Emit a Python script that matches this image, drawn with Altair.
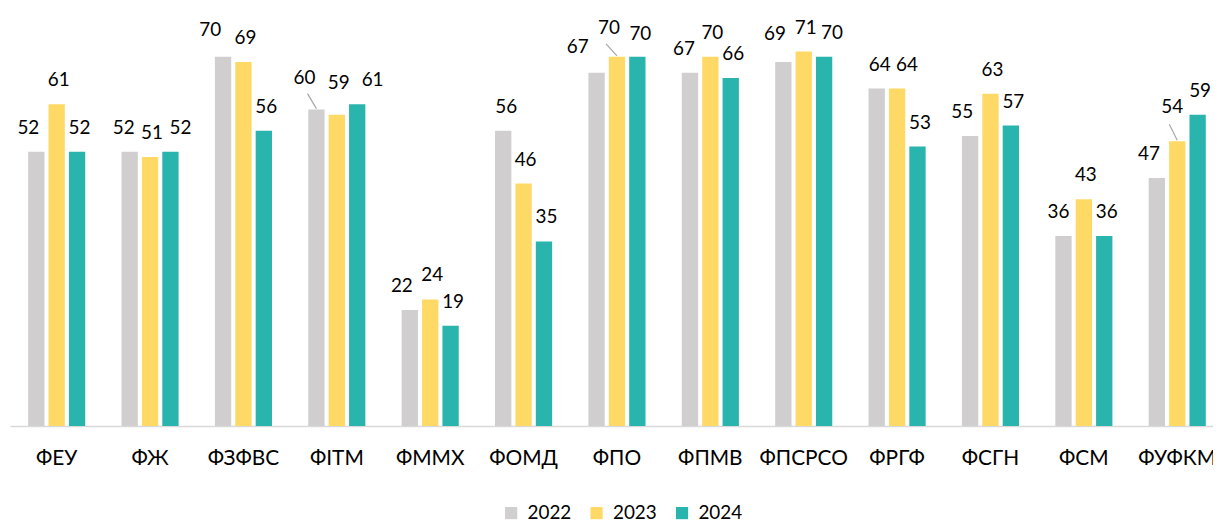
import altair as alt
import pandas as pd

categories = ["ФЕУ", "ФЖ", "ФЗФВС", "ФІТМ", "ФММХ", "ФОМД", "ФПО",
              "ФПМВ", "ФПСРСО", "ФРГФ", "ФСГН", "ФСМ", "ФУФКМ"]
years = ["2022", "2023", "2024"]
v2022 = [52, 52, 70, 60, 22, 56, 67, 67, 69, 64, 55, 36, 47]
v2023 = [61, 51, 69, 59, 24, 46, 70, 70, 71, 64, 63, 43, 54]
v2024 = [52, 52, 56, 61, 19, 35, 70, 66, 70, 53, 57, 36, 59]
colors = ["#D0CECE", "#FFD966", "#2AB4AE"]

# label placement (styling): default shift per series, and a few moved labels
default_dx = {"2022": -8, "2023": 2, "2024": 2.5}
default_dy = -18
label_moves = {
    ("ФЖ", "2022"): (-6, -18),
    ("ФЖ", "2024"): (10, -18),
    ("ФЗФВС", "2022"): (-13, -21),
    ("ФІТМ", "2022"): (-12, -26),
    ("ФІТМ", "2023"): (2, -26),
    ("ФІТМ", "2024"): (15.5, -18),
    ("ФОМД", "2022"): (3, -18),
    ("ФПО", "2022"): (-19, -20),
    ("ФПО", "2023"): (-8, -23),
    ("ФПО", "2024"): (3, -17),
    ("ФПМВ", "2022"): (-6, -18),
    ("ФПСРСО", "2022"): (-8.5, -22),
    ("ФПСРСО", "2024"): (8, -18),
    ("ФРГФ", "2022"): (3, -18),
    ("ФРГФ", "2023"): (10, -18),
    ("ФСМ", "2022"): (-5, -18),
    ("ФУФКМ", "2023"): (-5, -28),
}
leader_lines = {
    ("ФІТМ", "2022"): (-9, -15),
    ("ФПО", "2023"): (-11, -12),
    ("ФУФКМ", "2023"): (-8, -16),
}

rows = []
for yr, vals in zip(years, [v2022, v2023, v2024]):
    for c, v in zip(categories, vals):
        rows.append({"cat": c, "year": yr, "value": v, "key": f"{c}|{yr}"})
df = pd.DataFrame(rows)

FONT = "Lato"

x_enc = alt.X(
    "cat:N", sort=categories,
    scale=alt.Scale(range=[2, 1224], paddingInner=0, paddingOuter=0),
    axis=alt.Axis(title=None, labelAngle=0, ticks=False, tickSize=0,
                  domainColor="#D9D9D9", domainWidth=1.5,
                  labelFont=FONT, labelFontSize=21, labelColor="#000000",
                  labelPadding=22, labelOverlap=False),
)
xo_enc = alt.XOffset("year:N", sort=years,
                     scale=alt.Scale(paddingInner=0.2, paddingOuter=0.89))
y_enc = alt.Y("value:Q", scale=alt.Scale(domain=[0, 78]), axis=None)

base = alt.Chart(df)

bars = base.mark_bar().encode(
    x=x_enc, xOffset=xo_enc, y=y_enc,
    color=alt.Color(
        "year:N", sort=years,
        scale=alt.Scale(domain=years, range=colors),
        legend=alt.Legend(
            title=None, orient="none", legendX=497, legendY=492,
            direction="horizontal", symbolType="square", symbolSize=150,
            symbolStrokeWidth=0, labelFont=FONT, labelFontSize=19,
            labelColor="#000000", labelOffset=7, columnPadding=15, padding=0,
        ),
    ),
)

groups = {}
for _, r in df.iterrows():
    k = (r["cat"], r["year"])
    off = label_moves.get(k, (default_dx[r["year"]], default_dy))
    groups.setdefault(off, []).append(r["key"])

texts = []
for (dx, dy), keys in groups.items():
    texts.append(
        base.mark_text(dx=dx, dy=dy, baseline="alphabetic", align="center",
                       font=FONT, fontSize=19, color="#000000")
        .encode(x=x_enc, xOffset=xo_enc, y=y_enc, text="value:Q")
        .transform_filter(alt.FieldOneOfPredicate(field="key", oneOf=keys))
    )

leaders = []
for (c, yr), (lx, ly) in leader_lines.items():
    path = f"M0,0L{lx / 10:.2f},{ly / 10:.2f}"
    leaders.append(
        base.mark_point(shape=path, size=400, filled=False, color="#A6A6A6",
                        stroke="#A6A6A6", strokeWidth=1.2, opacity=1, yOffset=-1)
        .encode(x=x_enc, xOffset=xo_enc, y=y_enc)
        .transform_filter(alt.FieldEqualPredicate(field="key", equal=f"{c}|{yr}"))
    )

chart = alt.layer(bars, *texts, *leaders).properties(
    width=1213, height=414,
    autosize=alt.AutoSizeParams(type="none"),
    padding={"left": 0, "top": 5, "right": 0, "bottom": 93},
).configure_view(stroke=None)

chart.save("out.html", embed_options={"renderer": "svg", "actions": False})
